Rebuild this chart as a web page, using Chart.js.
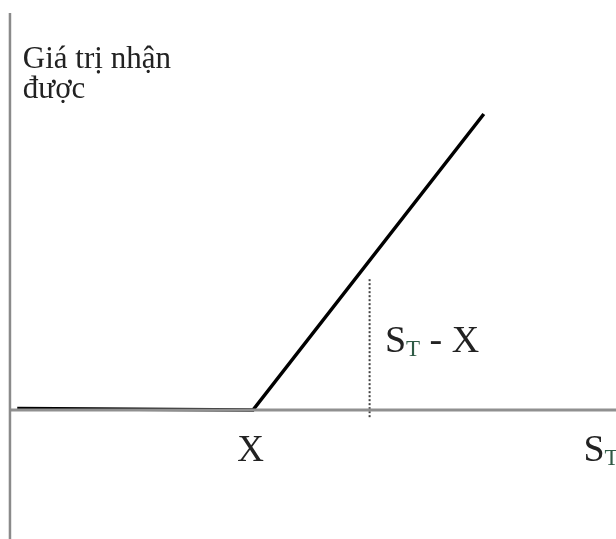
<!DOCTYPE html>
<html>
<head>
<meta charset="utf-8">
<script src="https://cdn.jsdelivr.net/npm/chart.js@4.4.1/dist/chart.umd.min.js"></script>
<style>
  html, body { margin: 0; padding: 0; background: #fff; }
  canvas { display: block; }
</style>
</head>
<body>
<canvas id="payoff" width="616" height="539"></canvas>
<script>
// strike and payoff of a long call
const strike = 100
const stValues = [3, 100, 195]
const payoffValues = [0.5, 0, 95]
// dotted marker showing S_T - X
const markerSt = [148, 148]
const markerY = [42, -2.6]
// axes
const xAxisRange = [0, 252]
const yAxisRange = [127.4, -42]
const titleLines = ['Giá trị nhận', 'được']

const toPts = (xs, ys) => xs.map((x, i) => ({ x, y: ys[i] }))

const textPlugin = {
  id: 'labels',
  afterDatasetsDraw(chart) {
    const { ctx, scales: { x, y } } = chart
    const serif = '"Liberation Serif", "DejaVu Serif", serif'
    ctx.save()
    ctx.textBaseline = 'alphabetic'

    // title of y axis
    ctx.fillStyle = '#222'
    ctx.font = '31px ' + serif
    ctx.textAlign = 'left'
    ctx.fillText(titleLines[0], x.getPixelForValue(5.3), y.getPixelForValue(109.8))
    ctx.fillText(titleLines[1], x.getPixelForValue(5.3), y.getPixelForValue(100.2))

    // X under the strike
    ctx.font = '37px ' + serif
    ctx.textAlign = 'center'
    ctx.fillText('X', x.getPixelForValue(strike - 1), y.getPixelForValue(-16.4))

    // S_T - X
    const drawST = (px, py, tail) => {
      ctx.textAlign = 'left'
      ctx.font = '38px ' + serif
      ctx.fillStyle = '#222'
      ctx.fillText('S', px, py)
      let w = ctx.measureText('S').width
      ctx.font = '23px ' + serif
      ctx.fillStyle = '#2f5a45'
      ctx.fillText('T', px + w, py + 4)
      w += ctx.measureText('T').width
      if (tail) {
        ctx.font = '38px ' + serif
        ctx.fillStyle = '#222'
        ctx.fillText(tail, px + w, py)
      }
    }
    drawST(x.getPixelForValue(154.3), y.getPixelForValue(18.6), ' - X')
    drawST(x.getPixelForValue(236.0), y.getPixelForValue(-16.4), '')
    ctx.restore()
  }
}

new Chart(document.getElementById('payoff'), {
  type: 'line',
  data: {
    datasets: [
      {
        label: 'y axis',
        data: toPts([0, 0], yAxisRange),
        borderColor: '#8a8a8a',
        borderWidth: 2.5,
        pointRadius: 0,
      },
      {
        label: 'x axis',
        data: toPts(xAxisRange, [0, 0]),
        borderColor: '#909090',
        borderWidth: 3,
        pointRadius: 0,
      },
      {
        label: 'marker',
        data: toPts(markerSt, markerY),
        borderColor: '#444',
        borderWidth: 2,
        borderDash: [2, 2],
        pointRadius: 0,
      },
      {
        label: 'payoff',
        data: toPts(stValues, payoffValues),
        borderColor: '#000',
        borderWidth: 3.5,
        pointRadius: 0,
        tension: 0,
      },
    ],
  },
  options: {
    responsive: false,
    animation: false,
    devicePixelRatio: 1,
    layout: { padding: 0 },
    plugins: { legend: { display: false }, tooltip: { enabled: false } },
    scales: {
      x: { type: 'linear', min: -4.1, max: 249.4, display: false },
      y: { type: 'linear', min: -41.4, max: 131.6, display: false },
    },
  },
  plugins: [textPlugin],
})
</script>
</body>
</html>
